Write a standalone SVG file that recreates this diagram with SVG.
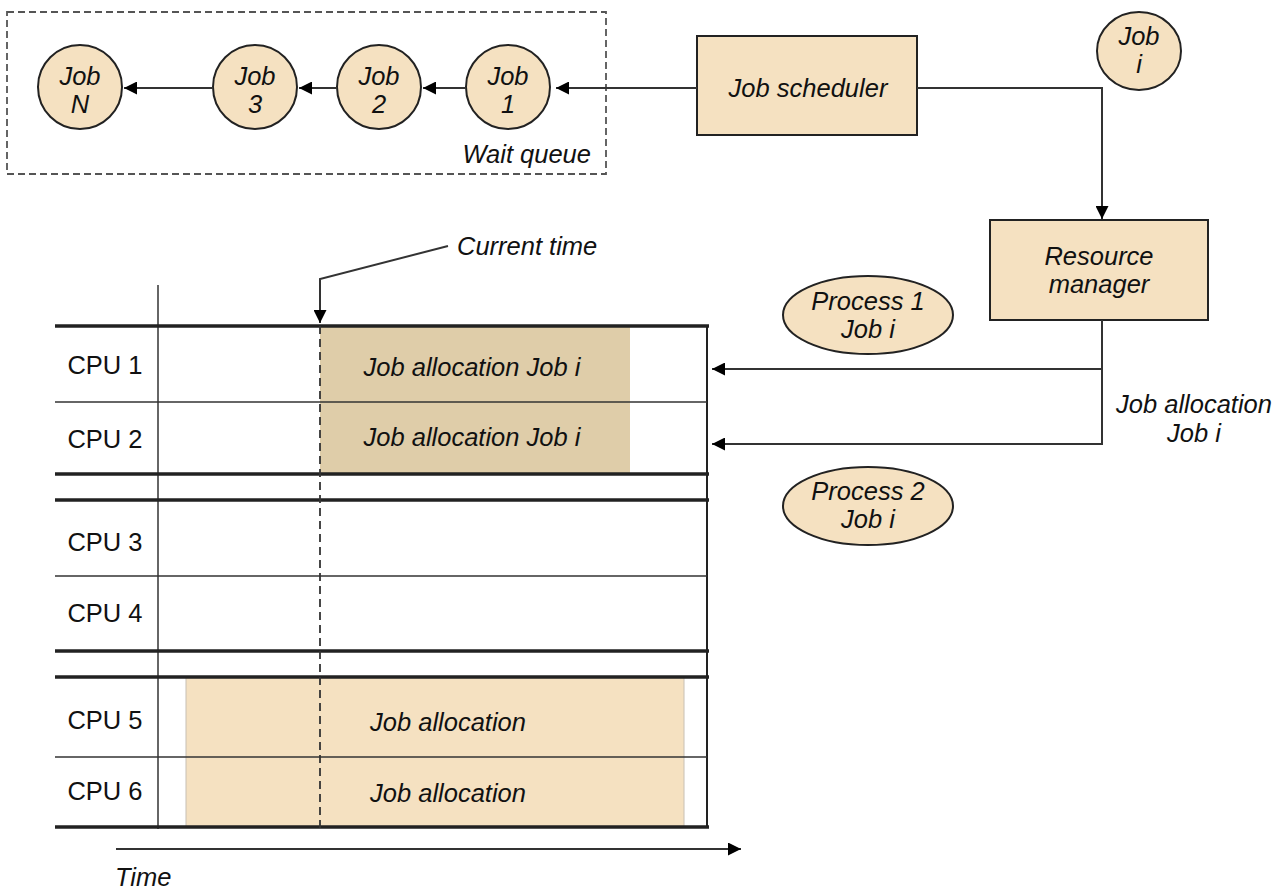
<svg xmlns="http://www.w3.org/2000/svg" width="1285" height="890" viewBox="0 0 1285 890">
  <defs>
    <marker id="arrow" viewBox="0 0 10 10" refX="10" refY="5" markerWidth="13" markerHeight="13" markerUnits="userSpaceOnUse" orient="auto">
      <path d="M0,0 L10,5 L0,10 Z" fill="#000"/>
    </marker>
    <style>
      text { font-family: "Liberation Sans", Arial, sans-serif; font-size: 25.5px; fill: #111; }
      .it { font-style: italic; }
      .mid { text-anchor: middle; }
      .node { fill: #f5e1c1; stroke: #222; stroke-width: 2; }
      .link { fill: none; stroke: #333; stroke-width: 2; }
      .thick { stroke: #222; stroke-width: 3.5; }
      .thin { stroke: #333; stroke-width: 1.5; }
    </style>
  </defs>
  <rect width="1285" height="890" fill="#fff"/>

  <!-- wait queue frame -->
  <g id="wait-queue">
    <rect x="7" y="12" width="599" height="162" fill="none" stroke="#555" stroke-width="1.8" stroke-dasharray="7,4"/>
    <text x="591" y="163" class="it" text-anchor="end">Wait queue</text>
  </g>

  <g id="job-n">
    <ellipse cx="80" cy="87" rx="42" ry="42" class="node"/>
    <text x="80" y="85" class="it mid">Job</text>
    <text x="80" y="113" class="it mid">N</text>
  </g>
  <g id="job-3">
    <ellipse cx="255" cy="87" rx="42" ry="42" class="node"/>
    <text x="255" y="85" class="it mid">Job</text>
    <text x="255" y="113" class="it mid">3</text>
  </g>
  <g id="job-2">
    <ellipse cx="379" cy="87" rx="42" ry="42" class="node"/>
    <text x="379" y="85" class="it mid">Job</text>
    <text x="379" y="113" class="it mid">2</text>
  </g>
  <g id="job-1">
    <ellipse cx="508" cy="87" rx="42" ry="42" class="node"/>
    <text x="508" y="85" class="it mid">Job</text>
    <text x="508" y="113" class="it mid">1</text>
  </g>

  <g id="job-scheduler">
    <rect x="697" y="36" width="220" height="99" class="node"/>
    <text x="808" y="97" class="it mid">Job scheduler</text>
  </g>

  <g id="job-i">
    <ellipse cx="1139" cy="51" rx="42" ry="39" class="node"/>
    <text x="1139" y="45" class="it mid">Job</text>
    <text x="1139" y="73" class="it mid">i</text>
  </g>

  <g id="resource-manager">
    <rect x="990" y="220" width="218" height="100" class="node"/>
    <text x="1099" y="265" class="it mid">Resource</text>
    <text x="1099" y="293" class="it mid">manager</text>
  </g>

  <g id="process-1">
    <ellipse cx="868" cy="315" rx="85" ry="39" class="node"/>
    <text x="868" y="310" class="it mid">Process 1</text>
    <text x="868" y="338" class="it mid">Job i</text>
  </g>

  <g id="process-2">
    <ellipse cx="868" cy="506" rx="85" ry="39" class="node"/>
    <text x="868" y="500" class="it mid">Process 2</text>
    <text x="868" y="528" class="it mid">Job i</text>
  </g>

  <!-- CPU timeline chart -->
  <g id="cpu-chart">
    <rect x="320" y="326" width="310" height="148" fill="#dfcda9"/>
    <rect x="186" y="677" width="498" height="150" fill="#f5e1c1" stroke="#c8c0b4" stroke-width="1"/>
    <line x1="158" y1="285" x2="158" y2="829" class="thin"/>
    <line x1="707" y1="326" x2="707" y2="827" stroke="#222" stroke-width="2"/>
    <line x1="55" y1="326" x2="709" y2="326" class="thick"/>
    <line x1="55" y1="474" x2="709" y2="474" class="thick"/>
    <line x1="55" y1="500" x2="709" y2="500" class="thick"/>
    <line x1="55" y1="651" x2="709" y2="651" class="thick"/>
    <line x1="55" y1="677" x2="709" y2="677" class="thick"/>
    <line x1="55" y1="827" x2="709" y2="827" class="thick"/>
    <line x1="55" y1="402" x2="707" y2="402" class="thin"/>
    <line x1="55" y1="576" x2="707" y2="576" class="thin"/>
    <line x1="55" y1="757" x2="707" y2="757" class="thin"/>
    <line x1="320" y1="326" x2="320" y2="830" stroke="#333" stroke-width="1.8" stroke-dasharray="8,5"/>

    <text x="105" y="374" class="mid">CPU 1</text>
    <text x="105" y="448" class="mid">CPU 2</text>
    <text x="105" y="551" class="mid">CPU 3</text>
    <text x="105" y="622" class="mid">CPU 4</text>
    <text x="105" y="729" class="mid">CPU 5</text>
    <text x="105" y="800" class="mid">CPU 6</text>

    <text x="472" y="376" class="it mid">Job allocation Job i</text>
    <text x="472" y="446" class="it mid">Job allocation Job i</text>
    <text x="448" y="731" class="it mid">Job allocation</text>
    <text x="448" y="802" class="it mid">Job allocation</text>

    <text x="457" y="255" class="it">Current time</text>
    <text x="115" y="886" class="it">Time</text>
  </g>

  <g id="connectors">
    <line x1="466" y1="88" x2="423" y2="88" class="link" marker-end="url(#arrow)"/>
    <line x1="337" y1="88" x2="299" y2="88" class="link" marker-end="url(#arrow)"/>
    <line x1="213" y1="88" x2="124" y2="88" class="link" marker-end="url(#arrow)"/>
    <line x1="697" y1="88" x2="556" y2="88" class="link" marker-end="url(#arrow)"/>
    <polyline points="917,88 1102,88 1102,219" class="link" marker-end="url(#arrow)"/>
    <polyline points="1102,320 1102,369 712,369" class="link" marker-end="url(#arrow)"/>
    <polyline points="1102,369 1102,444 712,444" class="link" marker-end="url(#arrow)"/>
    <polyline points="448,246 320,279 320,323" class="link" marker-end="url(#arrow)"/>
    <line x1="116" y1="849" x2="741" y2="849" class="link" marker-end="url(#arrow)"/>
  </g>

  <text x="1194" y="413" class="it mid">Job allocation</text>
  <text x="1194" y="442" class="it mid">Job i</text>
</svg>
